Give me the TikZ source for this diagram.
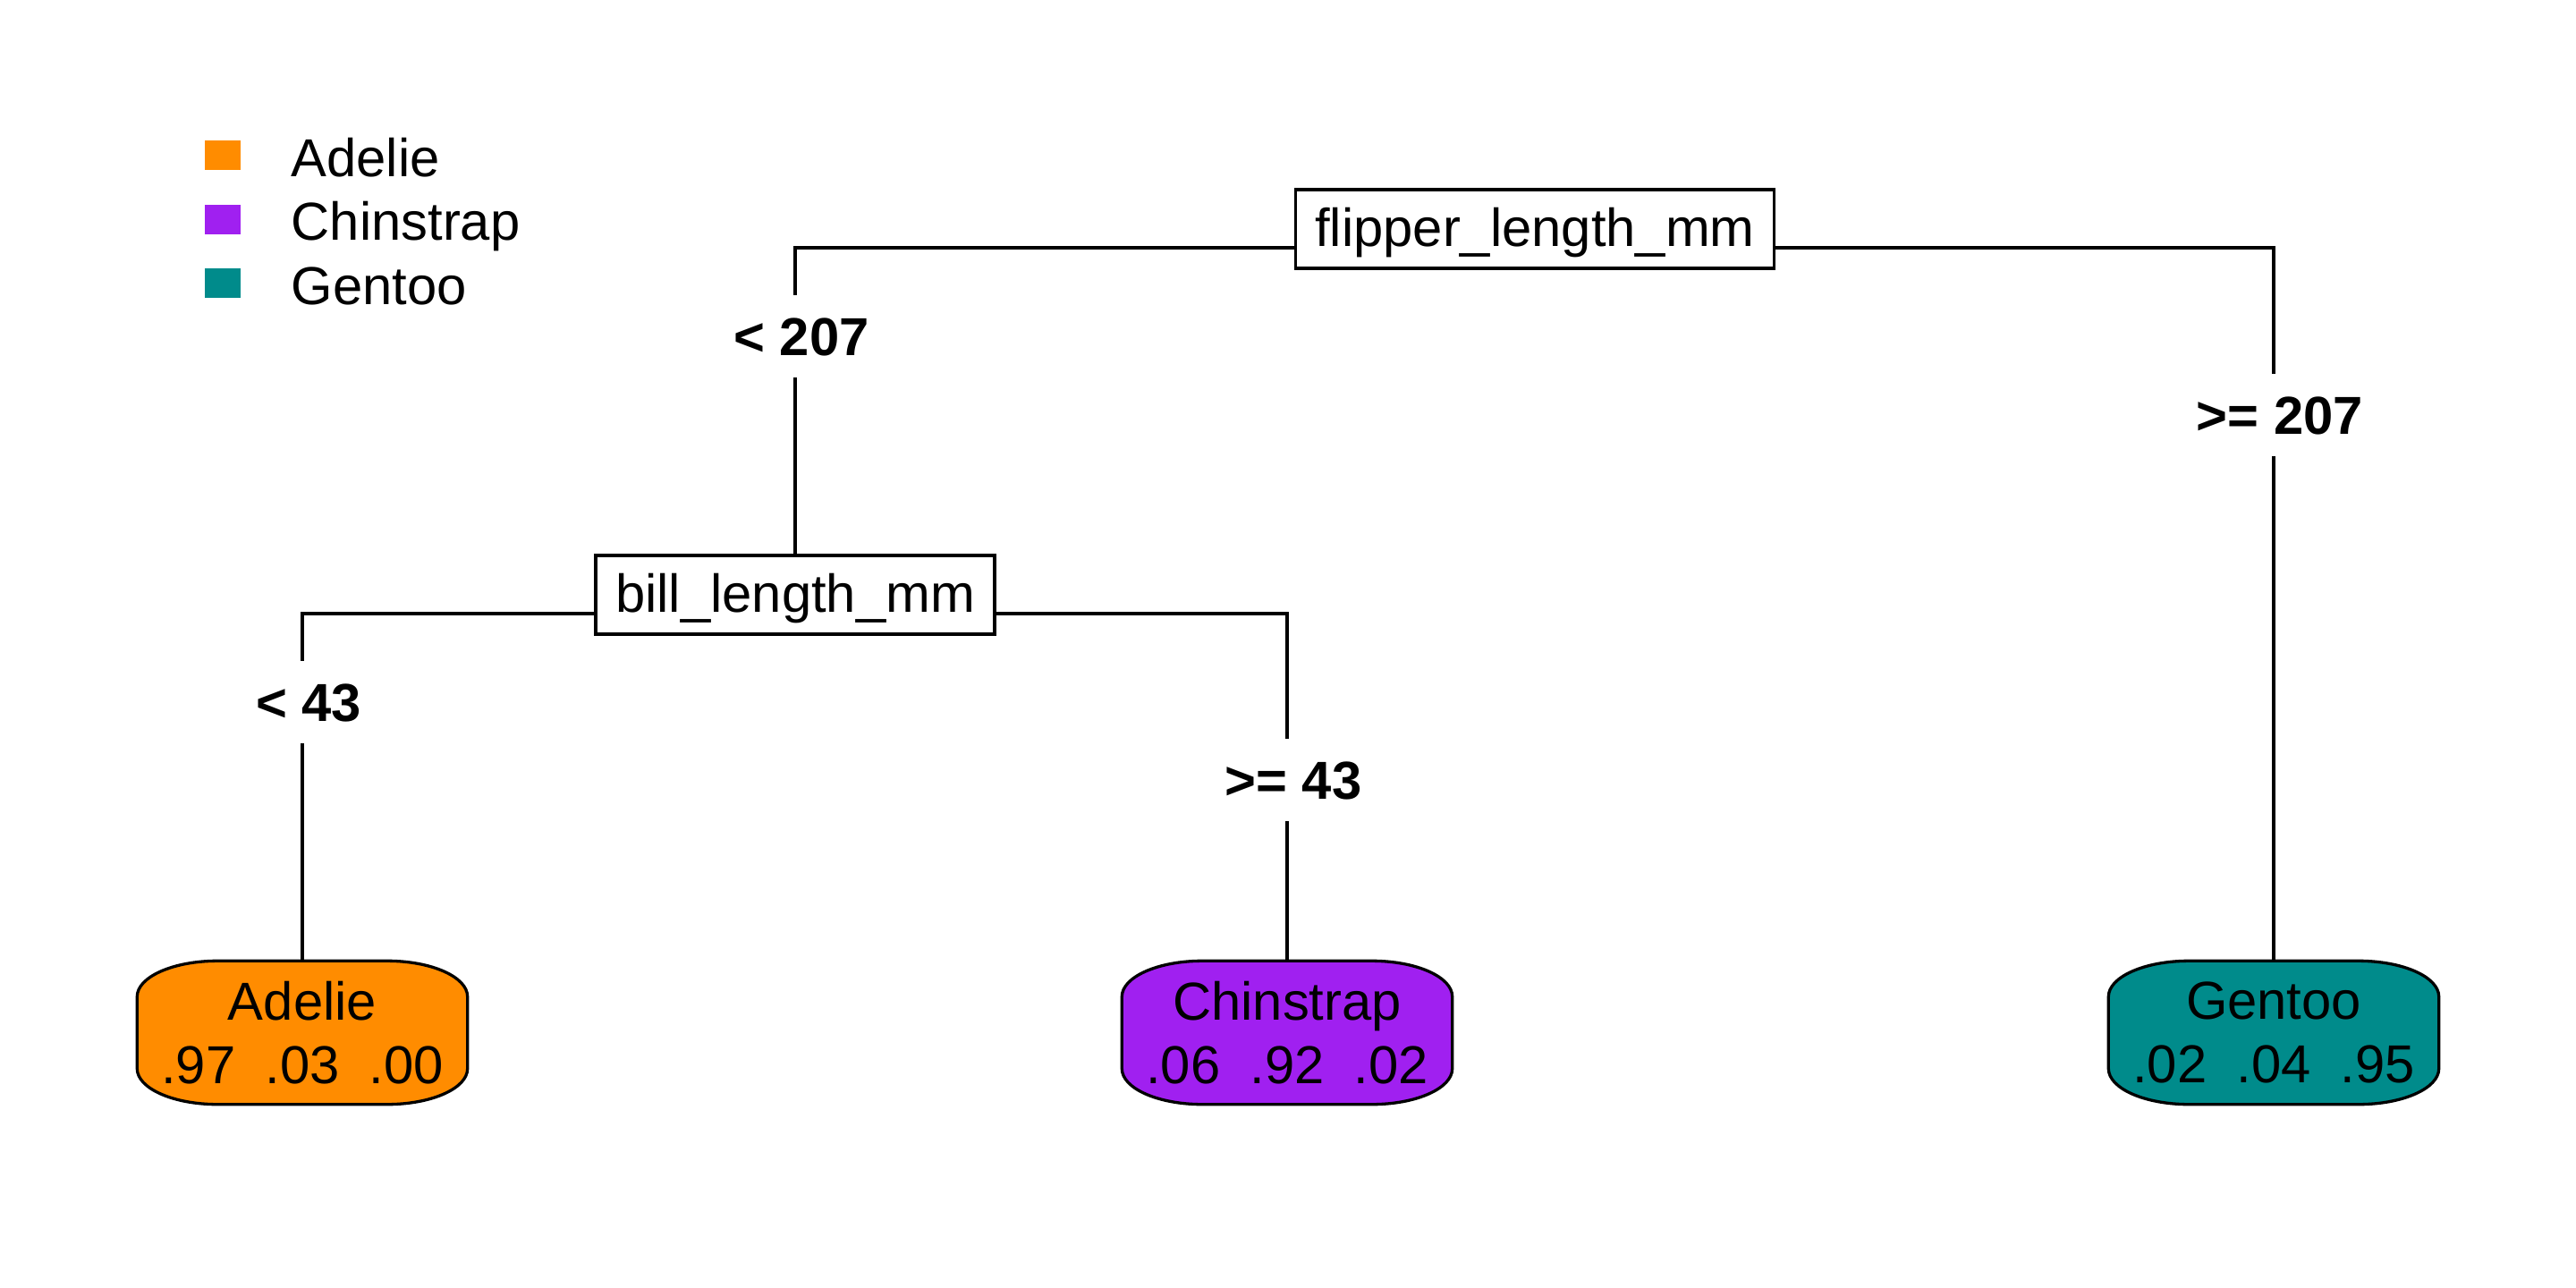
\documentclass[tikz,border=0pt]{standalone}
\usepackage{fontspec}
\setmainfont{Liberation Sans}
\usetikzlibrary{backgrounds}

\definecolor{adeliecol}{HTML}{FF8C00}
\definecolor{chinstrapcol}{HTML}{A020F0}
\definecolor{gentoocol}{HTML}{008B8B}

\tikzset{
  splitbox/.style={draw, fill=white, line width=0.033cm, inner xsep=0.22cm, inner ysep=0.155cm,
    text height=0.48cm, text depth=0.09cm},
  leafbox/.style={minimum width=3.68cm, minimum height=1.59cm, align=center, inner sep=0},
  cond/.style={fill=white, font=\fontsize{17}{20.2}\selectfont\bfseries, inner xsep=0.05cm,
    inner ysep=0.245cm, text height=0.43cm, text depth=0cm},
  branch/.style={line width=0.033cm},
  key/.style={minimum width=0.40cm, minimum height=0.33cm, inner sep=0}
}

% 叶子的圆角框 (椭圆圆角)
\newcommand{\leafshape}[2]{%
  \begin{scope}[on background layer]
    \draw[fill=#2, line width=0.033cm] ([xshift=0.9cm]#1.north west) -- ([xshift=-0.9cm]#1.north east)
      arc[start angle=90, end angle=0, x radius=0.9cm, y radius=0.4cm]
      -- ([yshift=0.4cm]#1.south east)
      arc[start angle=0, end angle=-90, x radius=0.9cm, y radius=0.4cm]
      -- ([xshift=0.9cm]#1.south west)
      arc[start angle=270, end angle=180, x radius=0.9cm, y radius=0.4cm]
      -- ([yshift=-0.4cm]#1.north west)
      arc[start angle=180, end angle=90, x radius=0.9cm, y radius=0.4cm] -- cycle;
  \end{scope}}

\begin{document}
\begin{tikzpicture}[font=\fontsize{17}{20.2}\selectfont]
    \useasboundingbox (0,0) rectangle (28.8,-14.4);

    % 图例
    \foreach \name/\col/\b in {Adelie/adeliecol/1.97, Chinstrap/chinstrapcol/2.685, Gentoo/gentoocol/3.40} {
        \node[key, fill=\col] (key\name) at (2.49,{0.235-\b}) {};
        \node[anchor=base west, inner sep=0] (lab\name) at (3.25,-\b) {\name};
    }

    % 分裂节点
    \node[splitbox] (root) at (17.16,-2.56) {flipper\_length\_mm};
    \node[splitbox] (bill) at (8.89,-6.65) {bill\_length\_mm};

    % 叶子节点
    \node[leafbox] (adelie) at (3.38,-11.545) {Adelie\\.97\ \ .03\ \ .00};
    \node[leafbox] (chinstrap) at (14.39,-11.545) {Chinstrap\\.06\ \ .92\ \ .02};
    \node[leafbox] (gentoo) at (25.42,-11.545) {Gentoo\\.02\ \ .04\ \ .95};
    \leafshape{adelie}{adeliecol}
    \leafshape{chinstrap}{chinstrapcol}
    \leafshape{gentoo}{gentoocol}

    % 树枝
    \coordinate (rootjoin) at ([yshift=-0.21cm]root.center);
    \coordinate (billjoin) at ([yshift=-0.21cm]bill.center);
    \begin{scope}[on background layer]
        \draw[branch] (bill.north) |- (rootjoin) -| (gentoo.north);
        \draw[branch] (adelie.north) |- (billjoin) -| (chinstrap.north);
    \end{scope}

    % 分裂条件
    \node[cond] (lt207) at (8.96,-3.755) {< 207};
    \node[cond] (ge207) at (25.49,-4.635) {>= 207};
    \node[cond] (lt43) at (3.45,-7.845) {< 43};
    \node[cond] (ge43) at (14.46,-8.715) {>= 43};

\end{tikzpicture}
\end{document}
